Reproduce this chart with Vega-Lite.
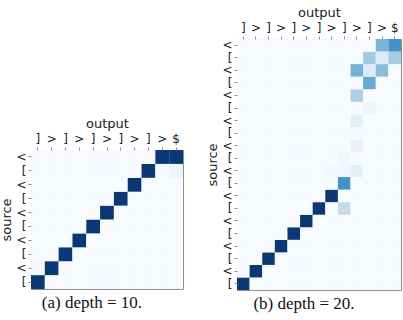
{
  "$schema": "https://vega.github.io/schema/vega-lite/v6.json",
  "autosize": {"type": "pad"},
  "padding": {"left": 0, "top": 5, "right": 3, "bottom": 2},
  "background": "white",
  "datasets": {
    "depth10": [
      {"r":0,"c":0,"v":0.97},{"r":0,"c":1,"v":0},{"r":0,"c":2,"v":0},{"r":0,"c":3,"v":0},{"r":0,"c":4,"v":0},{"r":0,"c":5,"v":0},{"r":0,"c":6,"v":0},{"r":0,"c":7,"v":0},{"r":0,"c":8,"v":0},{"r":0,"c":9,"v":0},{"r":0,"c":10,"v":0},
      {"r":1,"c":0,"v":0.02},{"r":1,"c":1,"v":0.97},{"r":1,"c":2,"v":0},{"r":1,"c":3,"v":0},{"r":1,"c":4,"v":0},{"r":1,"c":5,"v":0},{"r":1,"c":6,"v":0},{"r":1,"c":7,"v":0},{"r":1,"c":8,"v":0},{"r":1,"c":9,"v":0},{"r":1,"c":10,"v":0},
      {"r":2,"c":0,"v":0},{"r":2,"c":1,"v":0},{"r":2,"c":2,"v":0.97},{"r":2,"c":3,"v":0},{"r":2,"c":4,"v":0},{"r":2,"c":5,"v":0},{"r":2,"c":6,"v":0},{"r":2,"c":7,"v":0},{"r":2,"c":8,"v":0},{"r":2,"c":9,"v":0},{"r":2,"c":10,"v":0},
      {"r":3,"c":0,"v":0},{"r":3,"c":1,"v":0},{"r":3,"c":2,"v":0},{"r":3,"c":3,"v":0.97},{"r":3,"c":4,"v":0},{"r":3,"c":5,"v":0},{"r":3,"c":6,"v":0},{"r":3,"c":7,"v":0},{"r":3,"c":8,"v":0},{"r":3,"c":9,"v":0},{"r":3,"c":10,"v":0},
      {"r":4,"c":0,"v":0},{"r":4,"c":1,"v":0},{"r":4,"c":2,"v":0},{"r":4,"c":3,"v":0},{"r":4,"c":4,"v":0.97},{"r":4,"c":5,"v":0},{"r":4,"c":6,"v":0},{"r":4,"c":7,"v":0},{"r":4,"c":8,"v":0},{"r":4,"c":9,"v":0},{"r":4,"c":10,"v":0},
      {"r":5,"c":0,"v":0},{"r":5,"c":1,"v":0},{"r":5,"c":2,"v":0},{"r":5,"c":3,"v":0},{"r":5,"c":4,"v":0},{"r":5,"c":5,"v":0.97},{"r":5,"c":6,"v":0},{"r":5,"c":7,"v":0},{"r":5,"c":8,"v":0},{"r":5,"c":9,"v":0},{"r":5,"c":10,"v":0},
      {"r":6,"c":0,"v":0},{"r":6,"c":1,"v":0},{"r":6,"c":2,"v":0},{"r":6,"c":3,"v":0},{"r":6,"c":4,"v":0},{"r":6,"c":5,"v":0},{"r":6,"c":6,"v":0.97},{"r":6,"c":7,"v":0},{"r":6,"c":8,"v":0},{"r":6,"c":9,"v":0},{"r":6,"c":10,"v":0},
      {"r":7,"c":0,"v":0},{"r":7,"c":1,"v":0},{"r":7,"c":2,"v":0},{"r":7,"c":3,"v":0},{"r":7,"c":4,"v":0},{"r":7,"c":5,"v":0},{"r":7,"c":6,"v":0},{"r":7,"c":7,"v":0.97},{"r":7,"c":8,"v":0},{"r":7,"c":9,"v":0},{"r":7,"c":10,"v":0},
      {"r":8,"c":0,"v":0},{"r":8,"c":1,"v":0},{"r":8,"c":2,"v":0},{"r":8,"c":3,"v":0},{"r":8,"c":4,"v":0},{"r":8,"c":5,"v":0},{"r":8,"c":6,"v":0},{"r":8,"c":7,"v":0},{"r":8,"c":8,"v":0.97},{"r":8,"c":9,"v":0},{"r":8,"c":10,"v":0.05},
      {"r":9,"c":0,"v":0},{"r":9,"c":1,"v":0},{"r":9,"c":2,"v":0},{"r":9,"c":3,"v":0},{"r":9,"c":4,"v":0},{"r":9,"c":5,"v":0},{"r":9,"c":6,"v":0},{"r":9,"c":7,"v":0},{"r":9,"c":8,"v":0},{"r":9,"c":9,"v":0.97},{"r":9,"c":10,"v":0.97}
    ],
    "depth20": [
      {"r":0,"c":0,"v":0.97},{"r":0,"c":1,"v":0},{"r":0,"c":2,"v":0},{"r":0,"c":3,"v":0},{"r":0,"c":4,"v":0},{"r":0,"c":5,"v":0},{"r":0,"c":6,"v":0},{"r":0,"c":7,"v":0},{"r":0,"c":8,"v":0},{"r":0,"c":9,"v":0},{"r":0,"c":10,"v":0},{"r":0,"c":11,"v":0},{"r":0,"c":12,"v":0},
      {"r":1,"c":0,"v":0},{"r":1,"c":1,"v":0.97},{"r":1,"c":2,"v":0},{"r":1,"c":3,"v":0},{"r":1,"c":4,"v":0},{"r":1,"c":5,"v":0},{"r":1,"c":6,"v":0},{"r":1,"c":7,"v":0},{"r":1,"c":8,"v":0},{"r":1,"c":9,"v":0},{"r":1,"c":10,"v":0},{"r":1,"c":11,"v":0},{"r":1,"c":12,"v":0},
      {"r":2,"c":0,"v":0},{"r":2,"c":1,"v":0},{"r":2,"c":2,"v":0.97},{"r":2,"c":3,"v":0},{"r":2,"c":4,"v":0},{"r":2,"c":5,"v":0},{"r":2,"c":6,"v":0},{"r":2,"c":7,"v":0},{"r":2,"c":8,"v":0},{"r":2,"c":9,"v":0},{"r":2,"c":10,"v":0},{"r":2,"c":11,"v":0},{"r":2,"c":12,"v":0},
      {"r":3,"c":0,"v":0},{"r":3,"c":1,"v":0},{"r":3,"c":2,"v":0},{"r":3,"c":3,"v":0.97},{"r":3,"c":4,"v":0},{"r":3,"c":5,"v":0},{"r":3,"c":6,"v":0},{"r":3,"c":7,"v":0},{"r":3,"c":8,"v":0},{"r":3,"c":9,"v":0},{"r":3,"c":10,"v":0},{"r":3,"c":11,"v":0},{"r":3,"c":12,"v":0},
      {"r":4,"c":0,"v":0},{"r":4,"c":1,"v":0},{"r":4,"c":2,"v":0},{"r":4,"c":3,"v":0},{"r":4,"c":4,"v":0.97},{"r":4,"c":5,"v":0},{"r":4,"c":6,"v":0},{"r":4,"c":7,"v":0},{"r":4,"c":8,"v":0},{"r":4,"c":9,"v":0},{"r":4,"c":10,"v":0},{"r":4,"c":11,"v":0},{"r":4,"c":12,"v":0},
      {"r":5,"c":0,"v":0},{"r":5,"c":1,"v":0},{"r":5,"c":2,"v":0},{"r":5,"c":3,"v":0},{"r":5,"c":4,"v":0},{"r":5,"c":5,"v":0.97},{"r":5,"c":6,"v":0},{"r":5,"c":7,"v":0},{"r":5,"c":8,"v":0},{"r":5,"c":9,"v":0},{"r":5,"c":10,"v":0},{"r":5,"c":11,"v":0},{"r":5,"c":12,"v":0},
      {"r":6,"c":0,"v":0},{"r":6,"c":1,"v":0},{"r":6,"c":2,"v":0},{"r":6,"c":3,"v":0},{"r":6,"c":4,"v":0},{"r":6,"c":5,"v":0},{"r":6,"c":6,"v":0.97},{"r":6,"c":7,"v":0},{"r":6,"c":8,"v":0.26},{"r":6,"c":9,"v":0},{"r":6,"c":10,"v":0},{"r":6,"c":11,"v":0},{"r":6,"c":12,"v":0},
      {"r":7,"c":0,"v":0},{"r":7,"c":1,"v":0},{"r":7,"c":2,"v":0},{"r":7,"c":3,"v":0},{"r":7,"c":4,"v":0},{"r":7,"c":5,"v":0},{"r":7,"c":6,"v":0},{"r":7,"c":7,"v":0.97},{"r":7,"c":8,"v":0},{"r":7,"c":9,"v":0},{"r":7,"c":10,"v":0},{"r":7,"c":11,"v":0},{"r":7,"c":12,"v":0},
      {"r":8,"c":0,"v":0},{"r":8,"c":1,"v":0},{"r":8,"c":2,"v":0},{"r":8,"c":3,"v":0},{"r":8,"c":4,"v":0},{"r":8,"c":5,"v":0},{"r":8,"c":6,"v":0},{"r":8,"c":7,"v":0},{"r":8,"c":8,"v":0.62},{"r":8,"c":9,"v":0},{"r":8,"c":10,"v":0},{"r":8,"c":11,"v":0},{"r":8,"c":12,"v":0},
      {"r":9,"c":0,"v":0},{"r":9,"c":1,"v":0},{"r":9,"c":2,"v":0},{"r":9,"c":3,"v":0},{"r":9,"c":4,"v":0},{"r":9,"c":5,"v":0},{"r":9,"c":6,"v":0},{"r":9,"c":7,"v":0.02},{"r":9,"c":8,"v":0.04},{"r":9,"c":9,"v":0.09},{"r":9,"c":10,"v":0},{"r":9,"c":11,"v":0},{"r":9,"c":12,"v":0},
      {"r":10,"c":0,"v":0},{"r":10,"c":1,"v":0},{"r":10,"c":2,"v":0},{"r":10,"c":3,"v":0},{"r":10,"c":4,"v":0},{"r":10,"c":5,"v":0},{"r":10,"c":6,"v":0},{"r":10,"c":7,"v":0},{"r":10,"c":8,"v":0.03},{"r":10,"c":9,"v":0},{"r":10,"c":10,"v":0},{"r":10,"c":11,"v":0},{"r":10,"c":12,"v":0},
      {"r":11,"c":0,"v":0},{"r":11,"c":1,"v":0},{"r":11,"c":2,"v":0},{"r":11,"c":3,"v":0},{"r":11,"c":4,"v":0},{"r":11,"c":5,"v":0},{"r":11,"c":6,"v":0},{"r":11,"c":7,"v":0},{"r":11,"c":8,"v":0},{"r":11,"c":9,"v":0.08},{"r":11,"c":10,"v":0},{"r":11,"c":11,"v":0},{"r":11,"c":12,"v":0},
      {"r":12,"c":0,"v":0},{"r":12,"c":1,"v":0},{"r":12,"c":2,"v":0},{"r":12,"c":3,"v":0},{"r":12,"c":4,"v":0},{"r":12,"c":5,"v":0},{"r":12,"c":6,"v":0},{"r":12,"c":7,"v":0},{"r":12,"c":8,"v":0},{"r":12,"c":9,"v":0.01},{"r":12,"c":10,"v":0},{"r":12,"c":11,"v":0},{"r":12,"c":12,"v":0},
      {"r":13,"c":0,"v":0},{"r":13,"c":1,"v":0},{"r":13,"c":2,"v":0},{"r":13,"c":3,"v":0},{"r":13,"c":4,"v":0},{"r":13,"c":5,"v":0},{"r":13,"c":6,"v":0},{"r":13,"c":7,"v":0},{"r":13,"c":8,"v":0},{"r":13,"c":9,"v":0.1},{"r":13,"c":10,"v":0},{"r":13,"c":11,"v":0},{"r":13,"c":12,"v":0},
      {"r":14,"c":0,"v":0},{"r":14,"c":1,"v":0},{"r":14,"c":2,"v":0},{"r":14,"c":3,"v":0},{"r":14,"c":4,"v":0},{"r":14,"c":5,"v":0},{"r":14,"c":6,"v":0},{"r":14,"c":7,"v":0},{"r":14,"c":8,"v":0},{"r":14,"c":9,"v":0},{"r":14,"c":10,"v":0.05},{"r":14,"c":11,"v":0},{"r":14,"c":12,"v":0},
      {"r":15,"c":0,"v":0},{"r":15,"c":1,"v":0},{"r":15,"c":2,"v":0},{"r":15,"c":3,"v":0},{"r":15,"c":4,"v":0},{"r":15,"c":5,"v":0},{"r":15,"c":6,"v":0},{"r":15,"c":7,"v":0},{"r":15,"c":8,"v":0},{"r":15,"c":9,"v":0.33},{"r":15,"c":10,"v":0},{"r":15,"c":11,"v":0},{"r":15,"c":12,"v":0},
      {"r":16,"c":0,"v":0},{"r":16,"c":1,"v":0},{"r":16,"c":2,"v":0},{"r":16,"c":3,"v":0},{"r":16,"c":4,"v":0},{"r":16,"c":5,"v":0},{"r":16,"c":6,"v":0},{"r":16,"c":7,"v":0},{"r":16,"c":8,"v":0},{"r":16,"c":9,"v":0},{"r":16,"c":10,"v":0.52},{"r":16,"c":11,"v":0},{"r":16,"c":12,"v":0},
      {"r":17,"c":0,"v":0},{"r":17,"c":1,"v":0},{"r":17,"c":2,"v":0},{"r":17,"c":3,"v":0},{"r":17,"c":4,"v":0},{"r":17,"c":5,"v":0},{"r":17,"c":6,"v":0},{"r":17,"c":7,"v":0},{"r":17,"c":8,"v":0},{"r":17,"c":9,"v":0.48},{"r":17,"c":10,"v":0.13},{"r":17,"c":11,"v":0.43},{"r":17,"c":12,"v":0},
      {"r":18,"c":0,"v":0},{"r":18,"c":1,"v":0},{"r":18,"c":2,"v":0},{"r":18,"c":3,"v":0},{"r":18,"c":4,"v":0},{"r":18,"c":5,"v":0},{"r":18,"c":6,"v":0},{"r":18,"c":7,"v":0},{"r":18,"c":8,"v":0},{"r":18,"c":9,"v":0},{"r":18,"c":10,"v":0.37},{"r":18,"c":11,"v":0.13},{"r":18,"c":12,"v":0.35},
      {"r":19,"c":0,"v":0},{"r":19,"c":1,"v":0},{"r":19,"c":2,"v":0},{"r":19,"c":3,"v":0},{"r":19,"c":4,"v":0},{"r":19,"c":5,"v":0},{"r":19,"c":6,"v":0},{"r":19,"c":7,"v":0},{"r":19,"c":8,"v":0},{"r":19,"c":9,"v":0},{"r":19,"c":10,"v":0},{"r":19,"c":11,"v":0.47},{"r":19,"c":12,"v":0.62}
    ]
  },
  "config": {
    "view": {"stroke": "#8f8f8f", "strokeWidth": 1},
    "axis": {
      "labelFont": "DejaVu Sans", "labelFontSize": 12, "labelColor": "#1a1a1a",
      "titleFont": "DejaVu Sans", "titleFontSize": 13, "titleFontWeight": "normal", "titleColor": "#1a1a1a",
      "tickColor": "#8f8f8f", "tickSize": 3, "domain": false, "grid": false, "labelPadding": 2, "titlePadding": 2
    },
    "title": {"font": "Liberation Serif", "fontSize": 17, "fontWeight": "normal", "color": "#111111", "orient": "bottom", "frame": "bounds", "anchor": "middle", "offset": 6},
    "concat": {"spacing": 22}
  },
  "hconcat": [
    {
      "spacing": 0,
      "vconcat": [
        {
          "width": 152, "height": 77,
          "view": {"stroke": null},
          "data": {"values": [{}]},
          "mark": {"type": "point", "opacity": 0},
          "encoding": {}
        },
        {
          "data": {"name": "depth10"},
          "width": 152, "height": 139,
          "title": {"text": "(a) depth = 10."},
          "mark": {"type": "rect"},
          "encoding": {
            "x": {"field": "c", "type": "ordinal", "scale": {"paddingInner": 0, "paddingOuter": 0},
                  "axis": {"orient": "top", "title": "output", "labelAngle": 0,
                           "labelExpr": "datum.value == 10 ? '$' : (datum.value % 2 == 0 ? ']' : '>')"}},
            "y": {"field": "r", "type": "ordinal", "sort": "descending", "scale": {"paddingInner": 0, "paddingOuter": 0},
                  "axis": {"title": "source", "labelExpr": "datum.value % 2 == 0 ? '[' : '<'"}},
            "color": {"field": "v", "type": "quantitative", "legend": null,
                      "scale": {"domain": [0, 0.125, 0.25, 0.375, 0.5, 0.625, 0.75, 0.875, 1],
                                "range": ["#f7fbff", "#deebf7", "#c6dbef", "#9ecae1", "#6baed6", "#4292c6", "#2171b5", "#08519c", "#08306b"]}}
          }
        }
      ]
    },
    {
      "data": {"name": "depth20"},
      "width": 164, "height": 251,
      "title": {"text": "(b) depth = 20."},
      "mark": {"type": "rect"},
      "encoding": {
        "x": {"field": "c", "type": "ordinal", "scale": {"paddingInner": 0, "paddingOuter": 0},
              "axis": {"orient": "top", "title": "output", "labelAngle": 0,
                       "labelExpr": "datum.value == 12 ? '$' : (datum.value % 2 == 0 ? ']' : '>')"}},
        "y": {"field": "r", "type": "ordinal", "sort": "descending", "scale": {"paddingInner": 0, "paddingOuter": 0},
              "axis": {"title": "source", "labelExpr": "datum.value % 2 == 0 ? '[' : '<'"}},
        "color": {"field": "v", "type": "quantitative", "legend": null,
                  "scale": {"domain": [0, 0.125, 0.25, 0.375, 0.5, 0.625, 0.75, 0.875, 1],
                            "range": ["#f7fbff", "#deebf7", "#c6dbef", "#9ecae1", "#6baed6", "#4292c6", "#2171b5", "#08519c", "#08306b"]}}
      }
    }
  ]
}
